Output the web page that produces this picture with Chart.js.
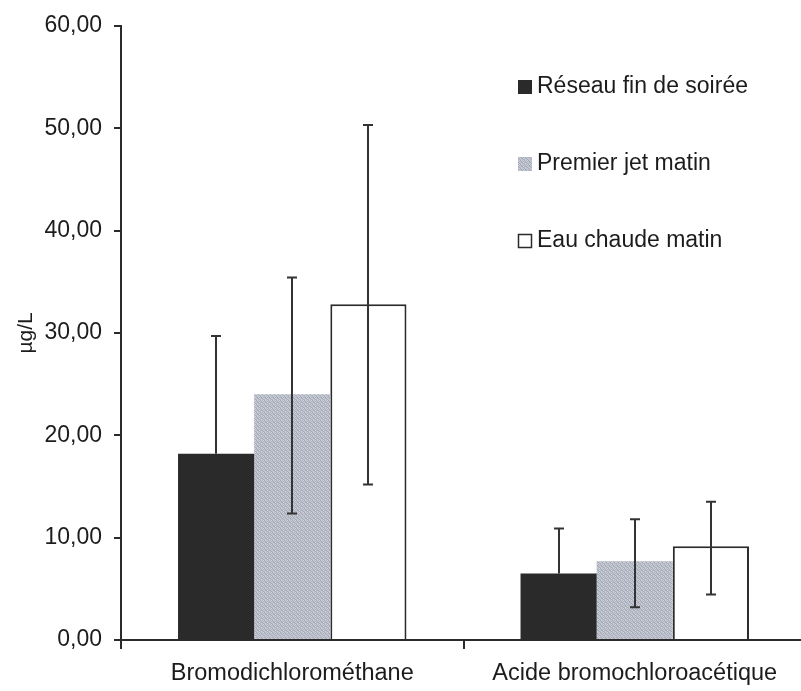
<!DOCTYPE html>
<html>
<head>
<meta charset="utf-8">
<script src="https://cdn.jsdelivr.net/npm/chart.js"></script>
<style>
  html, body { margin: 0; padding: 0; background: #fff; overflow: hidden; }
  #wrap { width: 801px; height: 691px; overflow: hidden; }
</style>
</head>
<body>
<div id="wrap"><canvas id="chart" width="806" height="691"></canvas></div>
<script>
const categories = ["Bromodichlorométhane", "Acide bromochloroacétique"];
const seriesNames = ["Réseau fin de soirée", "Premier jet matin", "Eau chaude matin"];

const reseauValues = [18.2, 6.5];
const premierValues = [24.0, 7.7];
const chaudeValues = [32.8, 9.15];

// error bar ends (upper / lower)
// lower ends of the black bars are hidden inside the bar in the original
const reseauUpper = [29.7, 10.9];
const reseauLower = [null, null];
const premierUpper = [35.4, 11.8];
const premierLower = [12.35, 3.2];
const chaudeUpper = [50.3, 13.5];
const chaudeLower = [15.2, 4.45];

const yTicks = [0, 10, 20, 30, 40, 50, 60];

const FONT = "'Liberation Sans', Arial, sans-serif";
const INK = "#2b2b2b";
const TEXT = "#1c1c1c";

function makeStipple() {
  const tile = document.createElement("canvas");
  tile.width = 4;
  tile.height = 4;
  const c = tile.getContext("2d");
  const shades = [
    "#a6abb9", "#c6cad4", "#b3b8c4", "#d0d3db",
    "#bcc0cb", "#a1a6b4", "#cbced7", "#adb2bf",
    "#c2c6d0", "#b0b5c2", "#a4a9b7", "#cdd0d9",
    "#b6bac6", "#ced1da", "#b9bdc8", "#a5aab8",
  ];
  shades.forEach((s, i) => {
    c.fillStyle = s;
    c.fillRect(i % 4, Math.floor(i / 4), 1, 1);
  });
  return document.getElementById("chart").getContext("2d").createPattern(tile, "repeat");
}

const stipple = makeStipple();

const errorBars = {
  id: "errorBars",
  afterDatasetsDraw(chart) {
    const { ctx } = chart;
    const y = chart.scales.y;
    ctx.save();
    ctx.strokeStyle = "#333";
    ctx.lineWidth = 2;
    chart.data.datasets.forEach((ds, i) => {
      const meta = chart.getDatasetMeta(i);
      meta.data.forEach((bar, j) => {
        const x = Math.round(bar.x);
        const top = y.getPixelForValue(ds.upper[j]);
        const bottom = ds.lower[j] == null ? bar.y : y.getPixelForValue(ds.lower[j]);
        ctx.beginPath();
        ctx.moveTo(x, top);
        ctx.lineTo(x, bottom);
        ctx.moveTo(x - 5, top);
        ctx.lineTo(x + 5, top);
        if (ds.lower[j] != null) {
          ctx.moveTo(x - 5, bottom);
          ctx.lineTo(x + 5, bottom);
        }
        ctx.stroke();
      });
    });
    ctx.restore();
  },
};

const sideLegend = {
  id: "sideLegend",
  afterDraw(chart) {
    const { ctx } = chart;
    ctx.save();
    ctx.font = "23px " + FONT;
    ctx.textBaseline = "middle";
    chart.data.datasets.forEach((ds, i) => {
      const cy = 87 + i * 77;
      ctx.fillStyle = ds.backgroundColor;
      ctx.fillRect(518, cy - 7, 14, 14);
      if (ds.borderWidth) {
        ctx.strokeStyle = INK;
        ctx.lineWidth = 1.5;
        ctx.strokeRect(518.5, cy - 6.5, 13, 13);
      }
      ctx.fillStyle = TEXT;
      ctx.fillText(ds.label, 537, cy);
    });
    ctx.restore();
  },
};

new Chart(document.getElementById("chart"), {
  type: "bar",
  data: {
    labels: categories,
    datasets: [
      {
        label: seriesNames[0],
        data: reseauValues,
        upper: reseauUpper,
        lower: reseauLower,
        backgroundColor: "#2a2a2a",
        borderWidth: 0,
      },
      {
        label: seriesNames[1],
        data: premierValues,
        upper: premierUpper,
        lower: premierLower,
        backgroundColor: stipple,
        borderWidth: 0,
      },
      {
        label: seriesNames[2],
        data: chaudeValues,
        upper: chaudeUpper,
        lower: chaudeLower,
        backgroundColor: "#ffffff",
        borderColor: INK,
        borderWidth: 2,
      },
    ],
  },
  options: {
    responsive: false,
    animation: false,
    devicePixelRatio: 1,
    categoryPercentage: 0.667,
    barPercentage: 1,
    layout: { padding: { top: 23, left: 0, right: 0, bottom: 0 } },
    plugins: {
      legend: { display: false },
      tooltip: { enabled: false },
    },
    scales: {
      x: {
        grid: {
          offset: true,
          drawOnChartArea: false,
          tickLength: 9,
          tickColor: INK,
          lineWidth: 2,
        },
        border: { color: INK, width: 2 },
        ticks: {
          color: TEXT,
          font: { family: FONT, size: 23.5 },
          padding: 10,
          maxRotation: 0,
        },
        afterFit(scale) {
          scale.height = 51;
        },
      },
      y: {
        min: 0,
        max: 60,
        afterBuildTicks(scale) {
          scale.ticks = yTicks.map((v) => ({ value: v }));
        },
        grid: {
          drawOnChartArea: false,
          tickLength: 7,
          tickColor: INK,
          lineWidth: 2,
        },
        border: { color: INK, width: 2 },
        ticks: {
          color: TEXT,
          font: { family: FONT, size: 23 },
          padding: 12,
          callback: (v) => v.toFixed(2).replace(".", ","),
        },
        title: {
          display: true,
          text: "µg/L",
          color: TEXT,
          font: { family: FONT, size: 21 },
          padding: { top: 14, bottom: 0 },
        },
        afterFit(scale) {
          scale.width = 121;
        },
      },
    },
  },
  plugins: [errorBars, sideLegend],
});
</script>
</body>
</html>
